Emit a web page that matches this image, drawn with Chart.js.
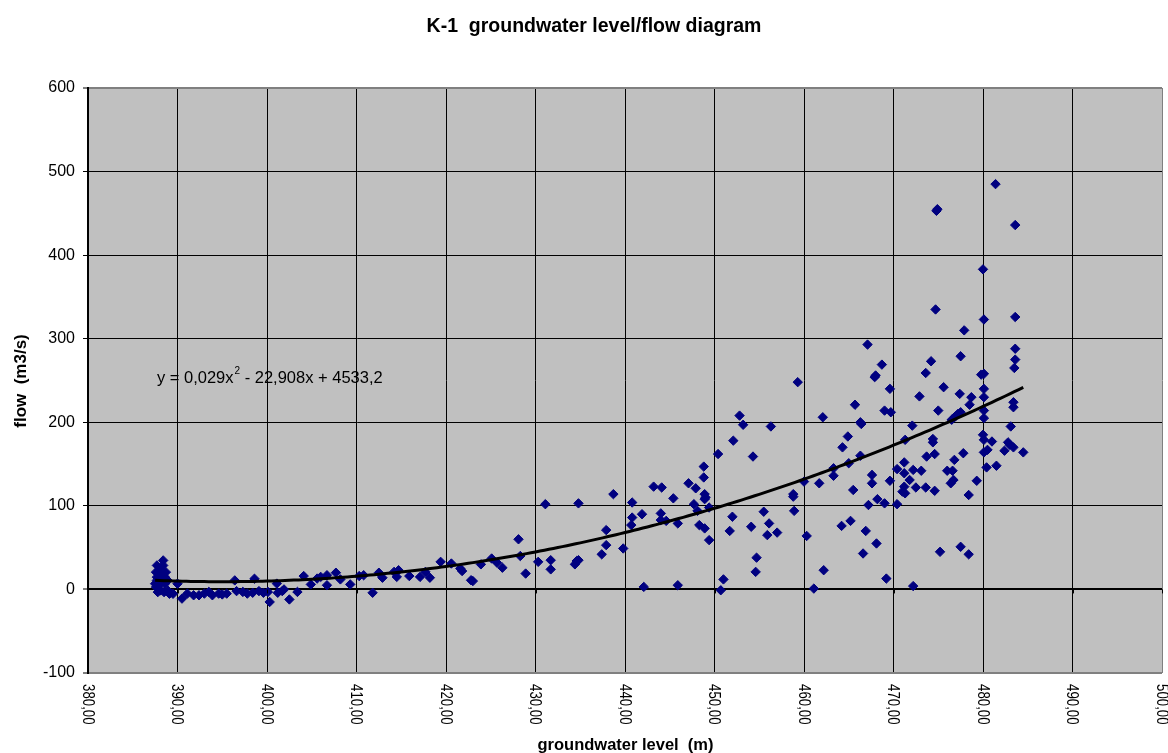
<!DOCTYPE html>
<html>
<head>
<meta charset="utf-8">
<title>K-1 groundwater level/flow diagram</title>
<script src="https://cdn.jsdelivr.net/npm/chart.js@4"></script>
<style>
  body { margin: 0; background: #fff; }
  #wrap { width: 1168px; height: 753px; }
</style>
</head>
<body>
<div id="wrap"><canvas id="flowChart" width="1168" height="753"></canvas></div>
<script>
// groundwater level (m) of each measurement
const levels = [
  // 387 - 404
  387.6, 387.5, 387.7, 387.9, 388.1, 387.8, 388.5, 388.2, 388.6, 388.9,
  388.6, 387.7, 388.3, 388.6, 387.6, 388.1, 388.7, 387.7, 388.4, 388.4,
  388.0, 388.9, 389.1, 389.5, 390.0, 390.5, 391.1, 391.8, 392.4, 393.0,
  393.5, 393.9, 394.6, 395.0, 395.5, 396.4, 396.6, 397.3, 397.8, 398.4,
  398.6, 399.1, 399.6, 400.1, 400.3, 401.1, 401.2, 401.7, 401.9, 402.5,
  403.4,
  // 404 - 420
  404.1, 404.9, 405.6, 406.0, 406.7, 406.7, 407.7, 408.2, 409.3, 410.3,
  410.8, 411.8, 412.5, 412.9, 414.2, 414.7, 414.5, 415.9, 417.1, 417.7,
  418.2, 419.4,
  // 420 - 458
  420.6, 421.6, 421.8, 422.8, 423.0, 423.9, 425.1, 425.7, 426.3, 428.1,
  428.3, 428.9, 430.3, 431.1, 431.7, 431.7, 434.4, 434.6, 434.8, 434.8,
  437.4, 437.9, 437.9, 438.7, 439.8, 440.7, 440.8, 440.8, 441.9, 442.1,
  443.2, 444.0, 444.0, 444.1, 444.6, 445.4, 445.9, 445.9, 447.1, 447.7,
  447.9, 448.1, 448.3, 448.8, 448.8, 448.9, 448.9, 448.9, 449.0, 449.4,
  449.4, 450.4, 450.7, 451.0, 451.7, 452.0, 452.1, 452.8, 453.2, 454.1,
  454.3, 454.6, 454.7, 455.5, 455.9, 456.1, 456.3, 457.0,
  // 458 - 485
  458.8, 458.8, 458.9, 459.3, 460.0, 460.3, 461.1, 461.7, 462.1, 462.2,
  463.3, 463.3, 464.2, 464.3, 464.9, 465.0, 465.2, 465.5, 465.7, 466.3,
  466.4, 466.3, 466.6, 466.9, 467.1, 467.2, 467.6, 467.6, 467.9, 468.0,
  468.1, 468.2, 468.7, 469.0, 469.0, 469.2, 469.6, 469.6, 469.7, 470.4,
  470.4, 471.0, 471.2, 471.2, 471.2, 471.3, 471.3, 471.8, 472.1, 472.2,
  472.2, 472.5, 472.9, 473.1, 473.6, 473.6, 473.7, 474.2, 474.4, 474.4,
  474.6, 474.6, 474.7, 474.8, 474.9, 475.0, 475.2, 475.6, 476.0, 476.4,
  476.5, 476.6, 476.7, 476.8, 476.9, 477.2, 477.4, 477.5, 477.5, 477.5,
  477.8, 477.9, 478.4, 478.4, 478.5, 478.7, 479.3, 479.8, 480.0, 480.0,
  480.1, 480.1, 480.1, 480.1, 480.1, 480.1, 480.1, 480.1, 480.4, 480.5,
  481.0, 481.4, 481.5, 482.4, 482.8, 483.0, 483.1, 483.4, 483.4, 483.4,
  483.5, 483.6, 483.6, 483.6, 483.6, 484.5
];

// flow (m3/s), same order as levels
const flows = [
  2.8, 6.8, 10.8, 4.8, -1.2, -3.2, -3.2, 8.8, 11.6, 10.8,
  6.8, 14.7, 16.7, 14.7, 20.7, 17.6, 20.7, 28.7, 28.7, 34.7,
  24, -1.2, -5.2, -5.2, 6.8, -11, -5, -7, -7, -5,
  -3, -7, -5, -6, -5, 10.8, -2, -3, -5, -4,
  12.8, -2, -4, -3, -15, 7, -4, -2, 0, -12,
  -3,
  16, 6, 13, 15, 17, 5, 20, 12, 6, 16,
  17, -4, 20, 14, 21, 23, 15, 16, 15, 21,
  14, 33,
  31, 25, 22, 11, 10, 30, 37, 32, 26, 60,
  40, 19, 33, 102, 35, 24, 30, 34, 35, 103,
  42, 53, 71, 114, 49, 77, 86, 104, 90, 3,
  123, 91, 83, 122, 82, 109, 79, 5, 127, 102,
  121, 94, 77, 147, 134, 73, 114, 108, 110, 98,
  59, 162, -1, 12, 70, 87, 178, 208, 197, 75,
  159, 21, 38, 93, 65, 79, 195, 68,
  114, 111, 94, 248, 129, 64, 1, 127, 206, 23,
  145, 136, 76, 170, 183, 151, 82, 119, 221, 200,
  198, 160, 43, 70, 293, 101, 137, 127, 254, 256,
  55, 108, 269, 214, 103, 13, 240, 130, 212, 144,
  102, 117, 152, 139, 123, 115, 179, 131, 196, 143,
  4, 122, 231, 142, 259, 122, 159, 273, 180, 176,
  162, 118, 335, 453, 455, 214, 45, 242, 142, 127,
  203, 142, 131, 155, 207, 210, 234, 212, 279, 51,
  163, 310, 113, 42, 221, 230, 130, 257, 383, 185,
  258, 323, 240, 230, 214, 205, 179, 164, 146, 167,
  177, 485, 148, 166, 176, 173, 195, 170, 224, 218,
  265, 436, 326, 288, 275, 164
];

const xTicks = [380, 390, 400, 410, 420, 430, 440, 450, 460, 470, 480, 490, 500];
const yTicks = [-100, 0, 100, 200, 300, 400, 500, 600];

// polynomial trendline as printed on the chart: a*x^2 + b*x + c
const trendCoeffs = [0.029, -22.908, 4533.2];
const trendText = ["y = 0,029x", "2", " - 22,908x + 4533,2"];
const trendTextAt = [387.7, 247];

const titleText = "K-1  groundwater level/flow diagram";
const xTitle = "groundwater level  (m)";
const yTitle = "flow  (m3/s)";

const FONT = '"Liberation Sans", Arial, sans-serif';

if (levels.length !== flows.length) console.warn("levels/flows length mismatch", levels.length, flows.length);

const points = levels.map((x, i) => ({ x: x, y: flows[i] }));

const xMin = Math.min(...levels);
const xMax = Math.max(...levels);
const trendPoints = [];
for (let x = xMin; x <= xMax + 0.001; x += 0.5) {
  trendPoints.push({ x: x, y: trendCoeffs[0] * x * x + trendCoeffs[1] * x + trendCoeffs[2] });
}

const chartDecor = {
  id: "chartDecor",
  beforeDraw(chart) {
    const { ctx, chartArea: a, scales } = chart;
    ctx.save();
    ctx.fillStyle = "#ffffff";
    ctx.fillRect(0, 0, chart.width, chart.height);
    ctx.fillStyle = "#c0c0c0";
    ctx.fillRect(a.left, a.top, a.right - a.left, a.bottom - a.top);

    // equation sits under the gridlines, like in the original
    ctx.fillStyle = "#000";
    ctx.textBaseline = "alphabetic";
    ctx.textAlign = "left";
    let x = scales.x.getPixelForValue(trendTextAt[0]);
    const y = scales.y.getPixelForValue(trendTextAt[1]);
    ctx.font = "16.5px " + FONT;
    ctx.fillText(trendText[0], x, y);
    x += ctx.measureText(trendText[0]).width + 1;
    ctx.font = "10px " + FONT;
    ctx.fillText(trendText[1], x, y - 9);
    x += ctx.measureText(trendText[1]).width;
    ctx.font = "16.5px " + FONT;
    ctx.fillText(trendText[2], x, y);
    ctx.restore();
  },
  afterDraw(chart) {
    const { ctx, chartArea: a, scales } = chart;
    ctx.save();
    ctx.fillStyle = "#000";
    ctx.strokeStyle = "#000";
    ctx.lineWidth = 1;

    // small tick marks under the x axis line (which crosses at 0)
    const y0 = scales.y.getPixelForValue(0);
    xTicks.forEach(v => {
      const px = Math.round(scales.x.getPixelForValue(v)) + 0.5;
      ctx.beginPath();
      ctx.moveTo(px, y0);
      ctx.lineTo(px, y0 + 4);
      ctx.stroke();
    });

    // x tick labels, turned clockwise, below the plot
    ctx.font = "16px " + FONT;
    ctx.textAlign = "left";
    ctx.textBaseline = "middle";
    xTicks.forEach(v => {
      const px = scales.x.getPixelForValue(v);
      ctx.save();
      ctx.translate(px - 1, a.bottom + 11);
      ctx.rotate(Math.PI / 2);
      ctx.scale(0.83, 1);
      ctx.fillText(v.toFixed(2).replace(".", ","), 0, 0);
      ctx.restore();
    });

    // title
    ctx.textAlign = "center";
    ctx.textBaseline = "alphabetic";
    ctx.font = "bold 19.5px " + FONT;
    ctx.fillText(titleText, 594, 31.5);

    // x axis title
    ctx.font = "bold 16.5px " + FONT;
    ctx.fillText(xTitle, (a.left + a.right) / 2 + 0.5, 750);

    // y axis title
    ctx.save();
    ctx.translate(26, (a.top + a.bottom) / 2 + 0.5);
    ctx.rotate(-Math.PI / 2);
    ctx.font = "bold 17px " + FONT;
    ctx.fillText(yTitle, 0, 0);
    ctx.restore();

    ctx.restore();
  }
};

new Chart(document.getElementById("flowChart"), {
  type: "scatter",
  data: {
    datasets: [
      {
        type: "line",
        label: "trend",
        data: trendPoints,
        borderColor: "#000000",
        borderWidth: 3,
        pointRadius: 0,
        fill: false,
        tension: 0
      },
      {
        label: "flow",
        data: points,
        pointStyle: "rectRot",
        pointRadius: 4.7,
        pointBackgroundColor: "#000080",
        pointBorderColor: "#000080",
        pointBorderWidth: 1
      }
    ]
  },
  options: {
    responsive: false,
    animation: false,
    events: [],
    layout: { padding: { top: 88, right: 6, bottom: 80, left: 0 } },
    plugins: {
      legend: { display: false },
      title: { display: false },
      tooltip: { enabled: false }
    },
    scales: {
      x: {
        type: "linear",
        min: xTicks[0],
        max: xTicks[xTicks.length - 1],
        afterBuildTicks: scale => { scale.ticks = xTicks.map(v => ({ value: v })); },
        afterFit: scale => { scale.height = 0; },
        ticks: { display: false },
        border: { display: false },
        grid: {
          drawTicks: false,
          color: c => (c.tick && c.tick.value === xTicks[xTicks.length - 1]) ? "#808080" : "#000000",
          lineWidth: c => (c.tick && c.tick.value === xTicks[0]) ? 2 : 1
        }
      },
      y: {
        type: "linear",
        min: yTicks[0],
        max: yTicks[yTicks.length - 1],
        afterBuildTicks: scale => { scale.ticks = yTicks.map(v => ({ value: v })); },
        afterFit: scale => { scale.width = 88; },
        ticks: {
          color: "#000",
          padding: 8,
          font: { family: FONT, size: 16 }
        },
        border: { display: true, color: "#000", width: 2 },
        grid: {
          tickLength: 5,
          tickColor: "#000",
          tickWidth: 1,
          color: c => {
            const v = c.tick ? c.tick.value : null;
            if (v === yTicks[0] || v === yTicks[yTicks.length - 1]) return "#808080";
            return "#000000";
          },
          lineWidth: c => {
            const v = c.tick ? c.tick.value : null;
            if (v === 0) return 2;
            if (v === yTicks[0] || v === yTicks[yTicks.length - 1]) return 2;
            return 1;
          }
        }
      }
    }
  },
  plugins: [chartDecor]
});
</script>
</body>
</html>
